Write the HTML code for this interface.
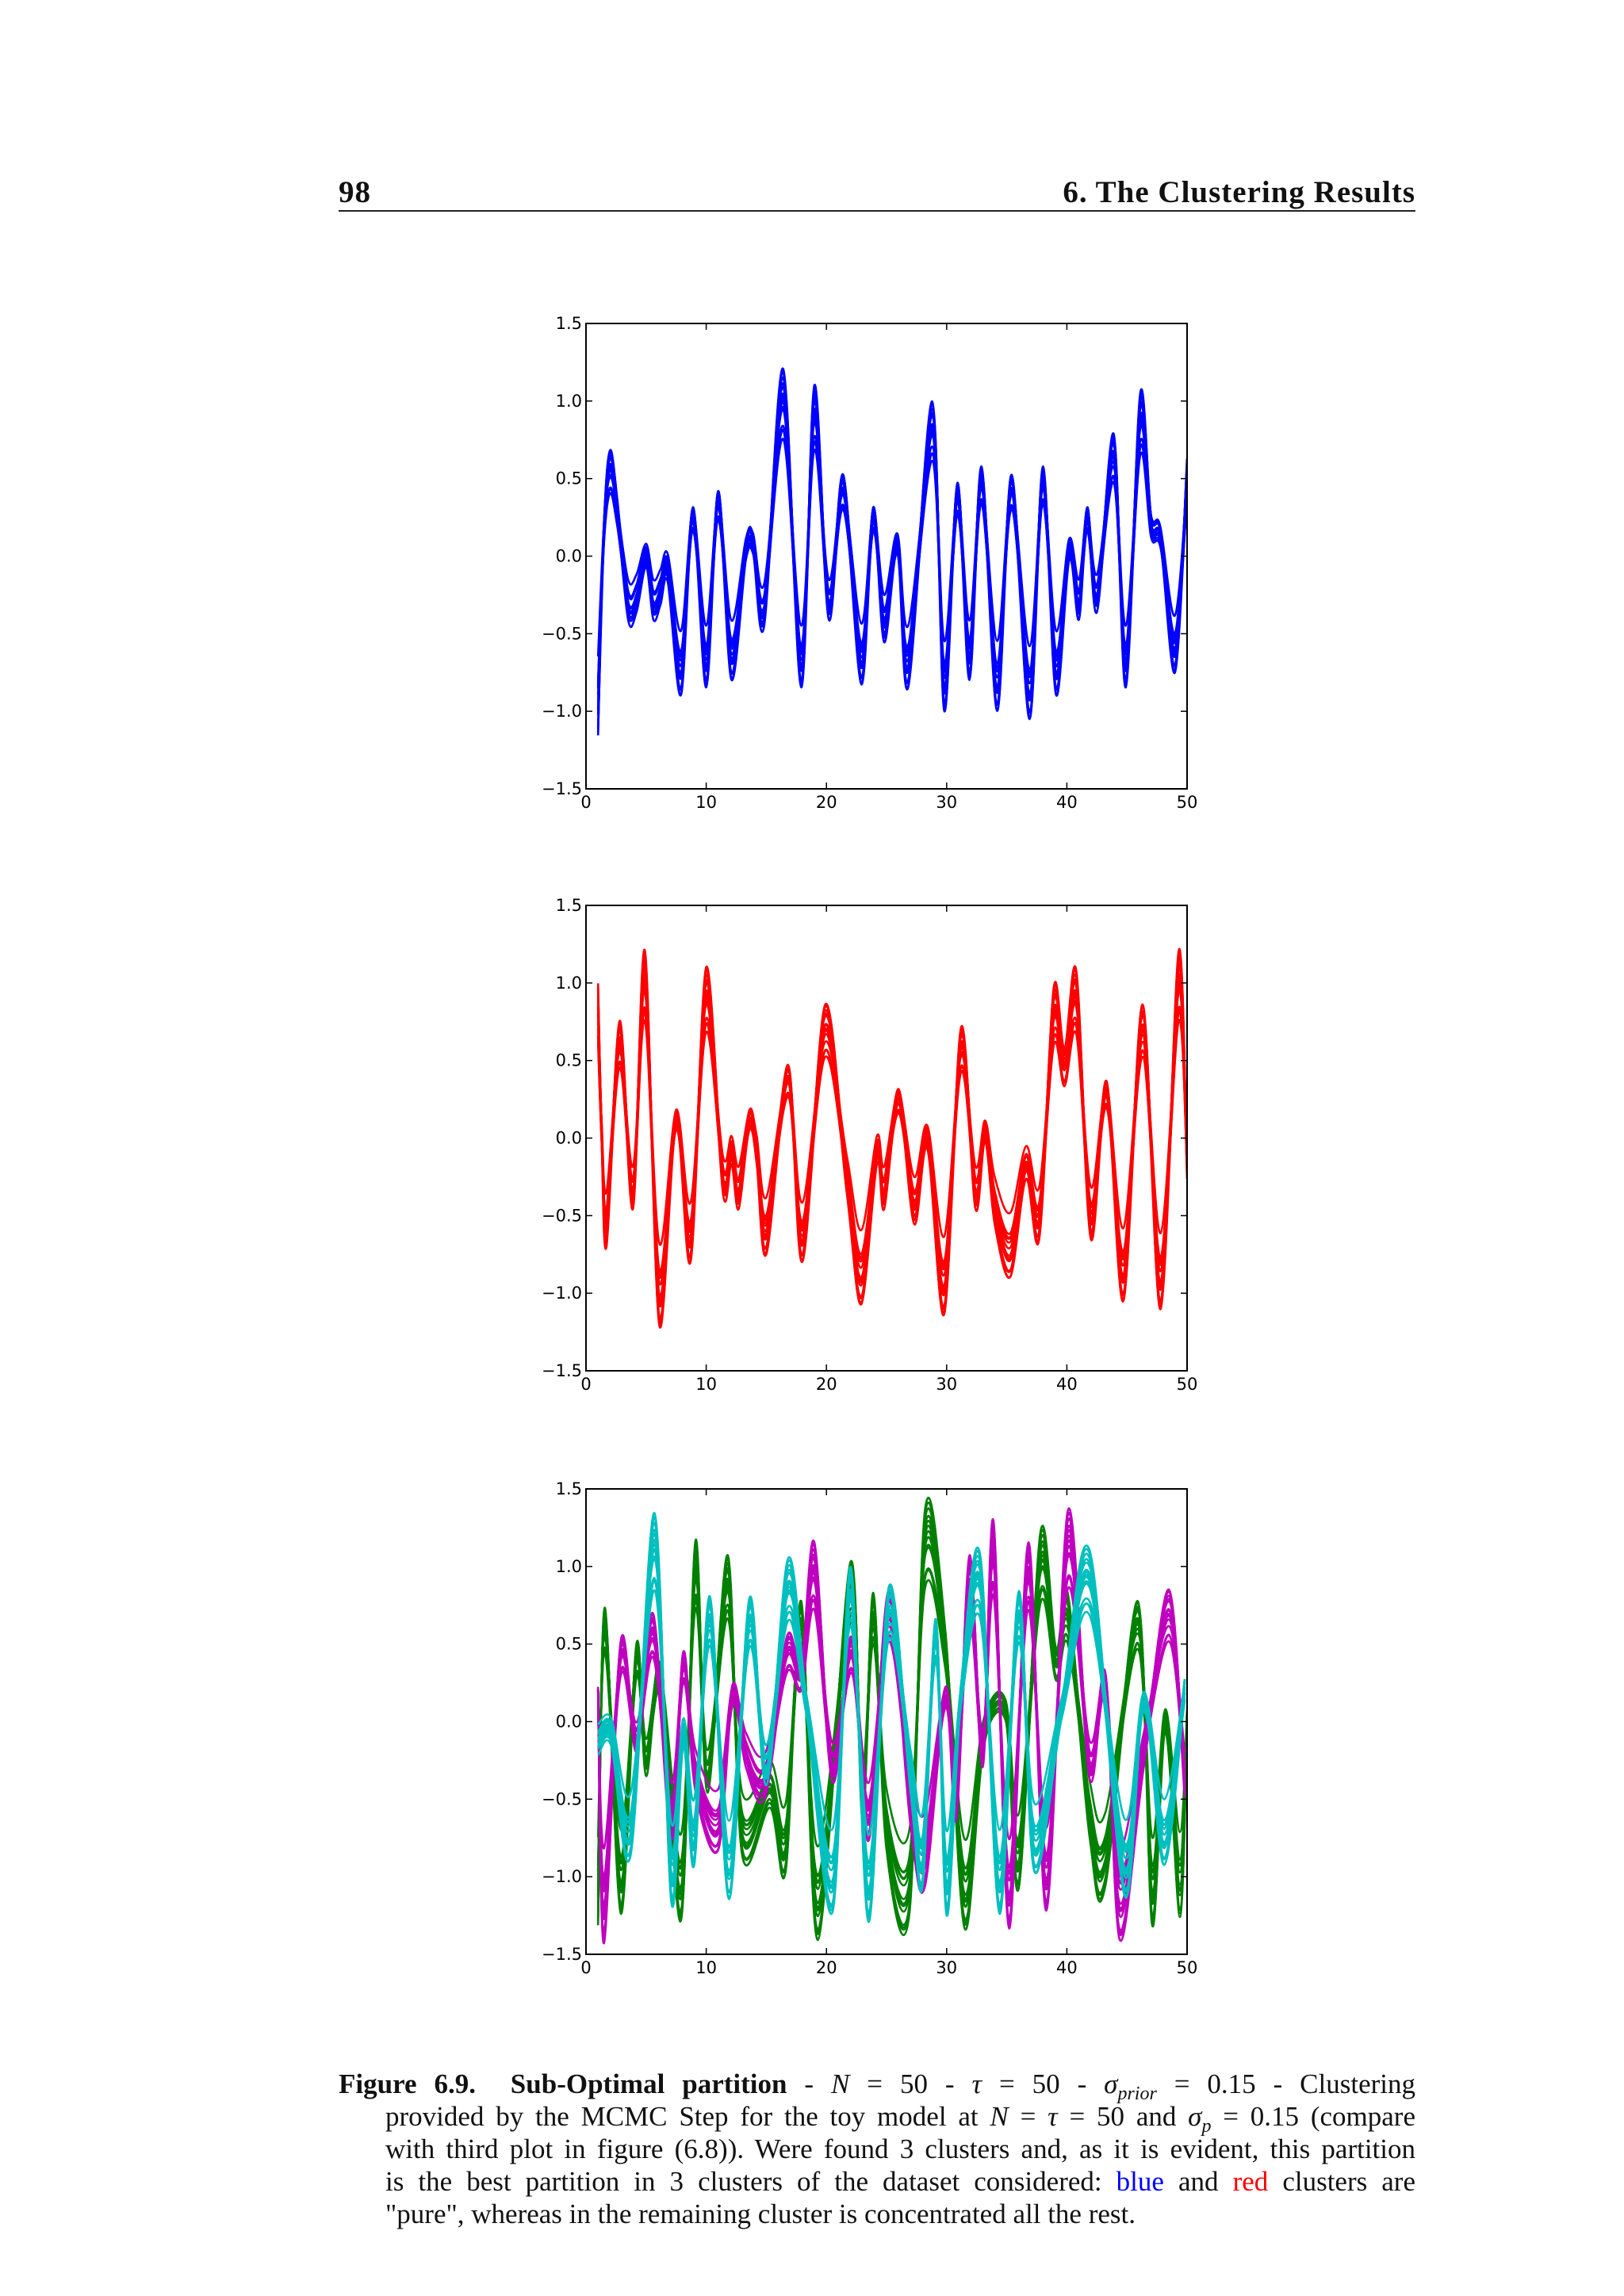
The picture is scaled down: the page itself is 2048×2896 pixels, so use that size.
<!DOCTYPE html>
<html><head><meta charset="utf-8">
<style>
html,body{margin:0;padding:0;background:#fff;}
body{width:2048px;height:2896px;position:relative;overflow:hidden;font-family:"Liberation Serif",serif;}
.hdr{position:absolute;top:220px;font-weight:bold;font-size:39px;letter-spacing:1px;color:#111;}
.rule{position:absolute;left:427px;top:265px;width:1358px;height:2px;background:#222;}
#cap{position:absolute;left:427px;top:2608px;width:1358px;font-size:35px;line-height:41px;color:#111;}
#cap div{white-space:nowrap;text-align:justify;text-align-last:justify;margin-left:59px;height:41px;}
#cap div.first{margin-left:0;}
#cap div.last{text-align-last:left;}
#cap sub{font-size:24px;line-height:0;vertical-align:baseline;position:relative;top:8px;}
svg{position:absolute;left:0;top:0;}
</style></head><body>
<div class="hdr" style="left:427px">98</div>
<div class="hdr" style="right:263px">6. The Clustering Results</div>
<div class="rule"></div>
<svg id="fig" width="2048" height="2896"></svg>
<div id="cap">
<div class="first"><b>Figure 6.9.&nbsp; Sub-Optimal partition</b> - <i>N</i> = 50 - <i>τ</i> = 50 - <i>σ<sub>prior</sub></i> = 0.15 - Clustering</div>
<div>provided by the MCMC Step for the toy model at <i>N</i> = <i>τ</i> = 50 and <i>σ<sub>p</sub></i> = 0.15 (compare</div>
<div>with third plot in figure (6.8)). Were found 3 clusters and, as it is evident, this partition</div>
<div>is the best partition in 3 clusters of the dataset considered: <span style="color:#0000ff">blue</span> and <span style="color:#ff0000">red</span> clusters are</div>
<div class="last">"pure", whereas in the remaining cluster is concentrated all the rest.</div>
</div>
<script>
const xTicks=[0,10,20,30,40,50];
const yTicks=[1.5,1.0,0.5,0.0,-0.5,-1.0,-1.5];
const yTickLabels=["1.5","1.0","0.5","0.0","\u22120.5","\u22121.0","\u22121.5"];
const curveScales=[1.0,0.92,0.85,0.78,0.7,1.05,0.95,0.88,0.8,0.74,1.02,0.9,0.82,0.76,0.66,0.97];
const curveShifts=[0,0.03,-0.03,0.05,-0.05,0,0.02,-0.02,0.04,-0.04,0.01,-0.01,0.06,-0.06,0.08,-0.07];
const blueX=[1,1.5,2,2.6,3.5,4.2,5,5.6,6.2,6.8,7.9,8.9,10,11,12.1,13.3,13.9,14.8,16.4,17.9,19,20.2,21.4,22.9,23.9,24.8,25.9,26.8,28.8,29.8,30.9,31.9,32.9,34.2,35.4,36.9,38,39.1,40.2,41,41.7,42.5,43.9,44.9,46.1,47,47.8,49,50];
const blueY=[-1.1,0.2,0.65,0.35,-0.35,-0.3,0.0,-0.35,-0.25,-0.1,-0.85,0.3,-0.8,0.4,-0.75,0.05,0.1,-0.4,1.15,-0.8,1.05,-0.35,0.5,-0.78,0.3,-0.5,0.1,-0.8,0.95,-0.95,0.45,-0.75,0.55,-0.95,0.5,-1.0,0.55,-0.85,0.05,-0.35,0.3,-0.3,0.75,-0.8,1.0,0.25,0.15,-0.7,0.6];
const redX=[1,1.3,1.7,2.8,3.9,4.9,6.1,7.5,8.7,10,11.4,12.1,12.7,13.6,14.2,15,16.8,18,19.9,21.7,22.9,24.2,24.8,26,27.3,28.4,29.8,31.2,32.4,33.2,34,35.3,36.6,37.7,38.9,39.8,40.8,42,43.3,44.7,46.3,47.8,49.3,50];
const redY=[0.95,0.05,-0.65,0.72,-0.4,1.15,-1.15,0.15,-0.75,1.05,-0.3,-0.1,-0.4,0.15,-0.1,-0.7,0.45,-0.75,0.82,-0.3,-1.02,-0.1,-0.4,0.3,-0.5,0.0,-1.08,0.68,-0.4,0.05,-0.5,-0.85,-0.2,-0.6,0.92,0.55,1.02,-0.6,0.35,-1.0,0.82,-1.05,1.15,-0.2];
const greenX=[1,1.56,2.9,4.2,5,6.2,7.9,9.1,10.1,11.8,13,15.3,16.6,17.9,19.3,22,23,23.9,25,26.9,28.2,29.9,31.5,33.1,34.9,36,37.8,39.1,40.1,41.9,43.2,45.9,47.1,48.2,49.4,50];
const greenY=[-1.25,0.7,-1.18,0.48,-0.29,0.35,-1.22,1.11,-0.4,1.02,-0.82,-0.5,-0.92,0.74,-1.34,0.98,-0.58,0.79,-0.78,-1.18,1.3,0.55,-1.27,-0.09,0.09,-1.02,1.16,0.45,0.78,-0.7,-1.01,0.74,-1.25,0.0,-1.2,0.0];
const magX=[1,1.5,2.9,4.2,5.6,7.1,8.1,9.1,11,12.2,13.3,14.9,16.7,17.9,19,20.5,22.1,23.5,25.2,27,28.2,29.9,30.8,31.9,33,33.9,35.2,36.8,38.3,40.1,41.9,43.2,44.4,46.4,48.5,49.8];
const magY=[0.2,-1.36,0.5,-0.13,0.66,-0.72,0.43,-0.39,-0.78,0.22,-0.23,-0.43,0.52,0.36,1.1,-0.33,0.52,-0.72,0.81,-0.62,-1.01,0.2,-0.58,1.02,-0.23,1.23,-1.27,1.1,-1.16,1.3,-0.31,0.3,-1.34,-0.23,0.81,-0.43];
const cyanX=[1,2.1,3.7,5.7,7.1,8.1,9,10.3,11.9,13.6,15,16.8,18.3,20.5,22,23.5,25.2,27,28,29.1,30,31.2,32.8,34.4,36,37.3,39.6,41.9,44.8,46.4,48.1,49.8];
const cyanY=[-0.15,-0.09,-0.82,1.28,-1.11,-0.09,-0.88,0.77,-1.09,0.76,-0.35,1.0,0.16,-1.17,0.95,-1.23,0.83,-0.4,-1.01,0.63,-1.19,0.22,1.02,-1.18,0.8,-0.92,0.12,1.05,-1.07,0.16,-0.88,0.26];

const NS="http://www.w3.org/2000/svg";
const svg=document.getElementById('fig');
const W=758,H=587,L=739;
function mk(tag,attrs,parent){const e=document.createElementNS(NS,tag);for(const k in attrs)e.setAttribute(k,attrs[k]);(parent||svg).appendChild(e);return e;}
function buildPath(xs,ys,sx,sy,sc,sh){
  const P=xs.map((x,i)=>[sx(x),sy(ys[i]*sc+sh)]);
  let d='M'+P[0][0].toFixed(1)+','+P[0][1].toFixed(1);
  for(let i=0;i<P.length-1;i++){
    const p0=P[Math.max(0,i-1)],p1=P[i],p2=P[i+1],p3=P[Math.min(P.length-1,i+2)];
    const c1x=p1[0]+(p2[0]-p0[0])/6,c1y=p1[1]+(p2[1]-p0[1])/6;
    const c2x=p2[0]-(p3[0]-p1[0])/6,c2y=p2[1]-(p3[1]-p1[1])/6;
    d+=' C'+c1x.toFixed(1)+','+c1y.toFixed(1)+' '+c2x.toFixed(1)+','+c2y.toFixed(1)+' '+p2[0].toFixed(1)+','+p2[1].toFixed(1);
  }
  return d;
}
function panel(T,series,name){
  const sx=x=>L+x/50*W, sy=y=>T+(1.5-y)/3*H;
  const g=mk('g',{});
  
  
  const clipId='c'+T;
  const cp=mk('clipPath',{id:clipId},g);mk('rect',{x:L,y:T,width:W,height:H},cp);
  const lines=mk('g',{'clip-path':'url(#'+clipId+')'},g);
  series.forEach(s=>{
    const sg=mk('g',{},lines);
    
    
    curveScales.forEach((sc,k)=>{
      const p=mk('path',{d:buildPath(s.x,s.y,sx,sy,sc,curveShifts[k]),fill:'none',stroke:s.color,'stroke-width':2.6},sg);
      
      
    });
  });
  const frame=mk('rect',{x:L,y:T,width:W,height:H,fill:'none',stroke:'#000','stroke-width':2},g);
  
  
  xTicks.forEach(v=>{
    const x=sx(v);
    mk('line',{x1:x,x2:x,y1:T+H,y2:T+H-8,stroke:'#000','stroke-width':1.5},g);
    mk('line',{x1:x,x2:x,y1:T,y2:T+8,stroke:'#000','stroke-width':1.5},g);
    const t=mk('text',{x:x,y:T+H+24,'text-anchor':'middle','font-family':'DejaVu Sans, sans-serif','font-size':21},g);
    t.textContent=String(v);
    
    
  });
  yTicks.forEach((v,i)=>{
    const y=sy(v);
    mk('line',{x1:L,x2:L+8,y1:y,y2:y,stroke:'#000','stroke-width':1.5},g);
    mk('line',{x1:L+W,x2:L+W-8,y1:y,y2:y,stroke:'#000','stroke-width':1.5},g);
    const t=mk('text',{x:L-5,y:y+7,'text-anchor':'end','font-family':'DejaVu Sans, sans-serif','font-size':21},g);
    t.textContent=yTickLabels[i];
    
    
  });
}
panel(408,[{x:blueX,y:blueY,color:'#0000ff',name:'blue'}],'blue-cluster-plot');
panel(1142,[{x:redX,y:redY,color:'#ff0000',name:'red'}],'red-cluster-plot');
panel(1878,[{x:greenX,y:greenY,color:'#008000',name:'green'},{x:magX,y:magY,color:'#bf00bf',name:'magenta'},{x:cyanX,y:cyanY,color:'#00bfbf',name:'cyan'}],'mixed-cluster-plot');
</script>
</body></html>
